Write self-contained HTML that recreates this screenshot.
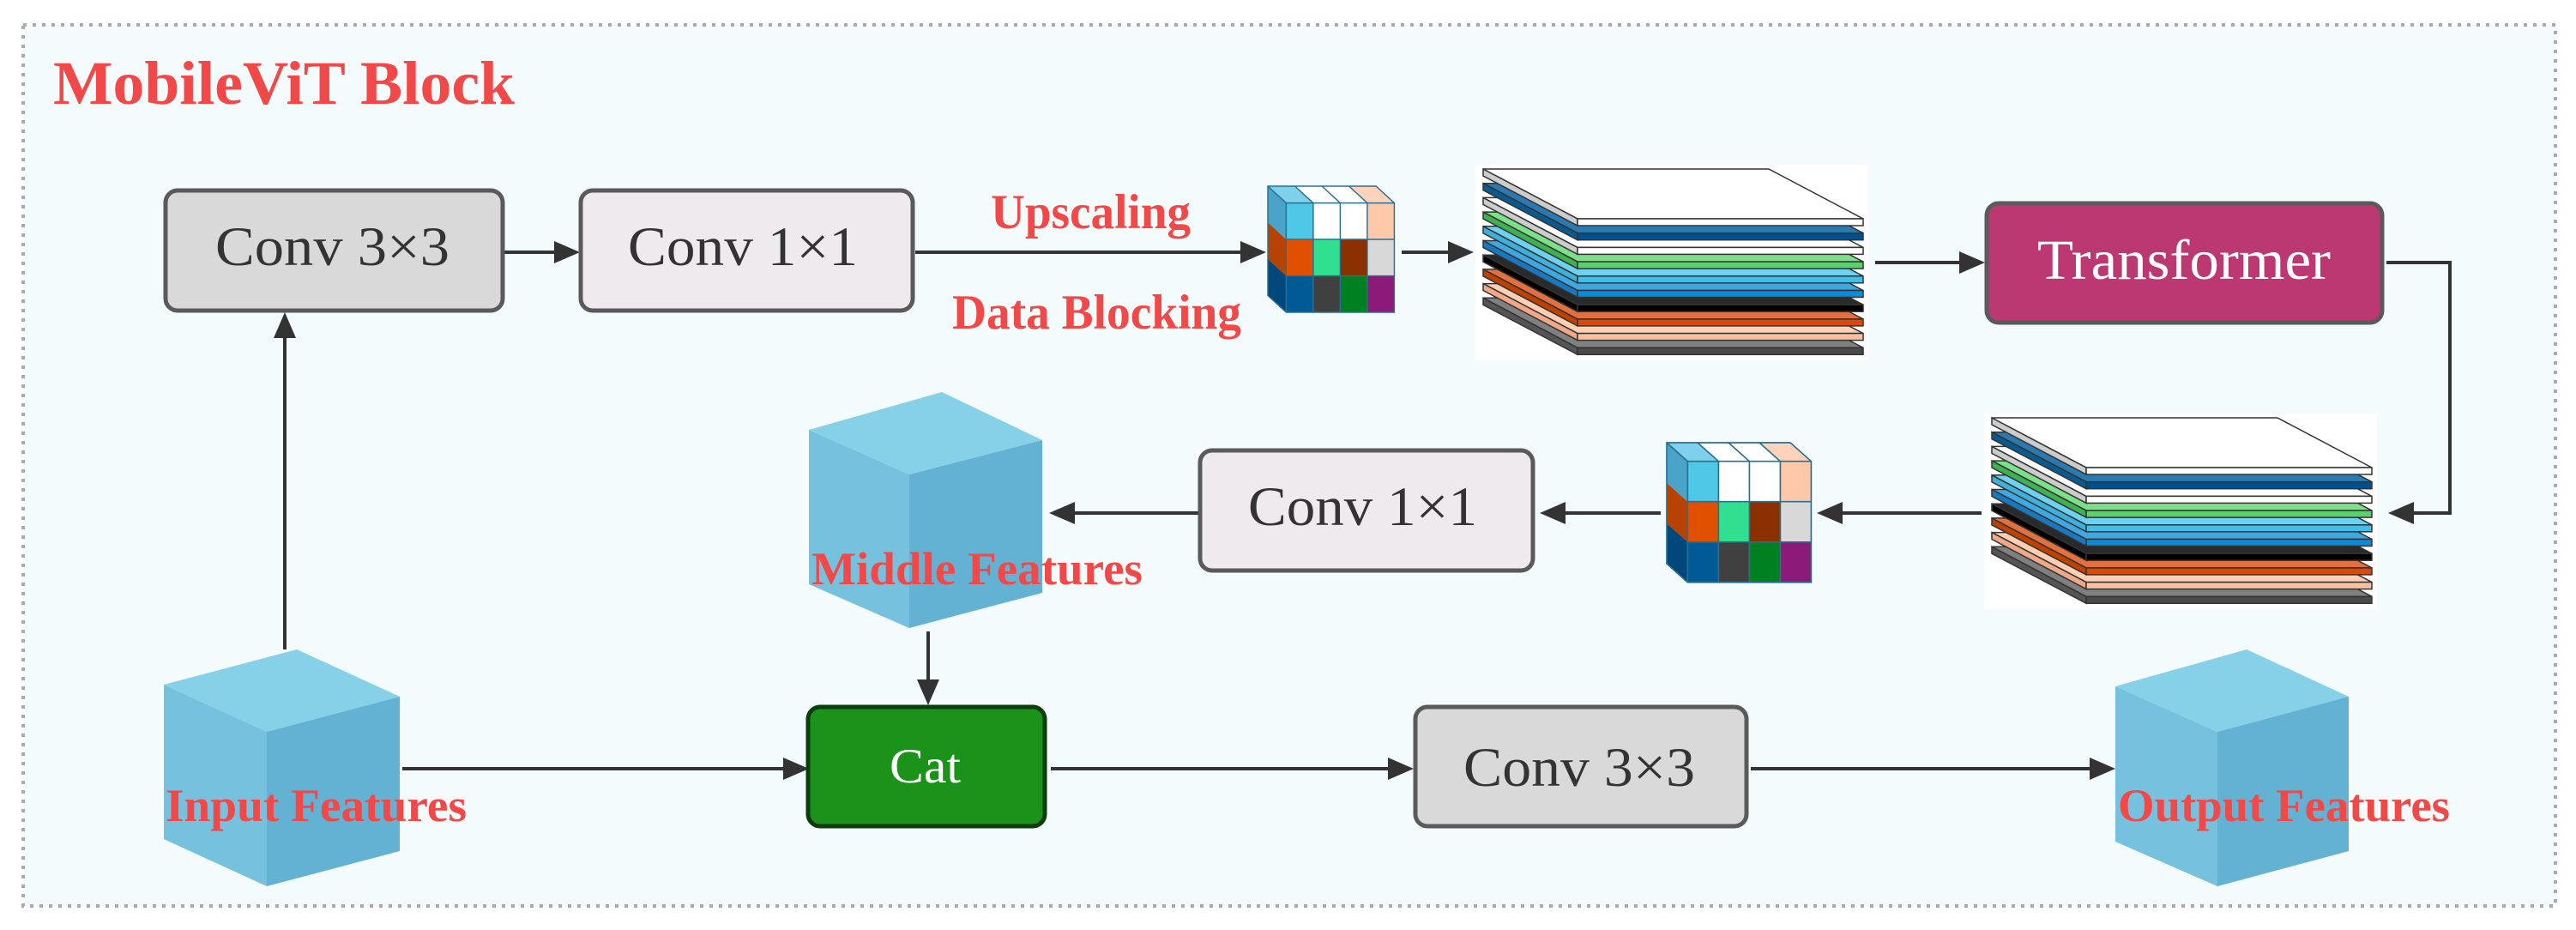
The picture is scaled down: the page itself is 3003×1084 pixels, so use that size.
<!DOCTYPE html>
<html><head><meta charset="utf-8"><style>
html,body{margin:0;padding:0;background:#fff;}
svg{display:block;}
text{font-family:"Liberation Serif",serif;}
</style></head><body>
<svg width="3003" height="1084" viewBox="0 0 3003 1084" xmlns="http://www.w3.org/2000/svg">
<defs>
<g id="cube">
  <polygon points="0,0 32.5,0 54.5,20 22,20" fill="#7fd0ea"/>
  <polygon points="32.5,0 65,0 87,20 54.5,20" fill="#fff"/>
  <polygon points="65,0 97.5,0 119.5,20 87,20" fill="#fff"/>
  <polygon points="97.5,0 130,0 152,20 119.5,20" fill="#ffd3bb"/>
  <polygon points="0,0 22,20 22,63.3 0,43.3" fill="#4aa3c8"/>
  <polygon points="0,43.3 22,63.3 22,106.7 0,86.7" fill="#b84200"/>
  <polygon points="0,86.7 22,106.7 22,150 0,130" fill="#00477c"/>
  <rect x="22" y="20" width="32.5" height="43.3" fill="#4fc8e8"/>
  <rect x="54.5" y="20" width="32.5" height="43.3" fill="#fff"/>
  <rect x="87" y="20" width="32.5" height="43.3" fill="#fff"/>
  <rect x="119.5" y="20" width="32.5" height="43.3" fill="#ffc8a8"/>
  <rect x="22" y="63.3" width="32.5" height="43.4" fill="#e05000"/>
  <rect x="54.5" y="63.3" width="32.5" height="43.4" fill="#30e090"/>
  <rect x="87" y="63.3" width="32.5" height="43.4" fill="#8b3000"/>
  <rect x="119.5" y="63.3" width="32.5" height="43.4" fill="#d8d8d8"/>
  <rect x="22" y="106.7" width="32.5" height="43.3" fill="#005a96"/>
  <rect x="54.5" y="106.7" width="32.5" height="43.3" fill="#404040"/>
  <rect x="87" y="106.7" width="32.5" height="43.3" fill="#008020"/>
  <rect x="119.5" y="106.7" width="32.5" height="43.3" fill="#8b1a78"/>
  <g fill="none" stroke="#2a6f8f" stroke-width="1.5">
    <polygon points="0,0 130,0 152,20 152,150 22,150 0,130"/>
    <line x1="22" y1="20" x2="152" y2="20"/><line x1="22" y1="20" x2="22" y2="150"/><line x1="0" y1="0" x2="22" y2="20"/>
    <line x1="22" y1="63.3" x2="152" y2="63.3"/><line x1="22" y1="106.7" x2="152" y2="106.7"/>
    <line x1="54.5" y1="20" x2="54.5" y2="150"/><line x1="87" y1="20" x2="87" y2="150"/><line x1="119.5" y1="20" x2="119.5" y2="150"/>
    <line x1="32.5" y1="0" x2="54.5" y2="20"/><line x1="65" y1="0" x2="87" y2="20"/><line x1="97.5" y1="0" x2="119.5" y2="20"/>
  </g>
</g>
<g id="stack">
  <rect x="1720" y="192" width="458" height="228" fill="#fff"/>
  <!-- layers bottom to top; k=9..0 -->
  <g stroke="#333" stroke-width="1.5">
    <g transform="translate(0,150.3)"><polygon points="1729,197 2062,197 2172,255 1839,255" fill="#808080"/><polygon points="1729,197 1839,255 1839,263 1729,205" fill="#555"/><rect x="1839" y="255" width="333" height="8" fill="#4a4a4a"/></g>
    <g transform="translate(0,133.6)"><polygon points="1729,197 2062,197 2172,255 1839,255" fill="#ffd0b4"/><polygon points="1729,197 1839,255 1839,263 1729,205" fill="#f0a888"/><rect x="1839" y="255" width="333" height="8" fill="#ffc0a0"/></g>
    <g transform="translate(0,116.9)"><polygon points="1729,197 2062,197 2172,255 1839,255" fill="#e37040"/><polygon points="1729,197 1839,255 1839,263 1729,205" fill="#c04000"/><rect x="1839" y="255" width="333" height="8" fill="#d84a08"/></g>
    <g transform="translate(0,100.2)"><polygon points="1729,197 2062,197 2172,255 1839,255" fill="#2a2a2a"/><polygon points="1729,197 1839,255 1839,263 1729,205" fill="#000"/><rect x="1839" y="255" width="333" height="8" fill="#000"/></g>
    <g transform="translate(0,83.5)"><polygon points="1729,197 2062,197 2172,255 1839,255" fill="#40a8e0"/><polygon points="1729,197 1839,255 1839,263 1729,205" fill="#1a78c0"/><rect x="1839" y="255" width="333" height="8" fill="#0a8ad8"/></g>
    <g transform="translate(0,66.8)"><polygon points="1729,197 2062,197 2172,255 1839,255" fill="#70d0f0"/><polygon points="1729,197 1839,255 1839,263 1729,205" fill="#40b0d8"/><rect x="1839" y="255" width="333" height="8" fill="#40c0e8"/></g>
    <g transform="translate(0,50.1)"><polygon points="1729,197 2062,197 2172,255 1839,255" fill="#7ce08a"/><polygon points="1729,197 1839,255 1839,263 1729,205" fill="#40b050"/><rect x="1839" y="255" width="333" height="8" fill="#5cd06c"/></g>
    <g transform="translate(0,33.4)"><polygon points="1729,197 2062,197 2172,255 1839,255" fill="#fff"/><polygon points="1729,197 1839,255 1839,263 1729,205" fill="#ccc"/><rect x="1839" y="255" width="333" height="8" fill="#fff"/></g>
    <g transform="translate(0,16.7)"><polygon points="1729,197 2062,197 2172,255 1839,255" fill="#2a7ab0"/><polygon points="1729,197 1839,255 1839,263 1729,205" fill="#0a5a90"/><rect x="1839" y="255" width="333" height="8" fill="#005090"/></g>
    <g><polygon points="1729,197 2062,197 2172,255 1839,255" fill="#fff"/><polygon points="1729,197 1839,255 1839,263 1729,205" fill="#ccc"/><rect x="1839" y="255" width="333" height="8" fill="#fff"/></g>
  </g>
</g>
</defs>

<rect x="27" y="29" width="2952" height="1027" fill="#f3fbfd" stroke="#aaaaaa" stroke-width="4" stroke-dasharray="4 7"/>
<text x="62" y="121" font-size="72" font-weight="bold" fill="#f24848" textLength="538" lengthAdjust="spacingAndGlyphs">MobileViT Block</text>

<!-- connectors -->
<g stroke="#333" stroke-width="4" fill="none">
  <line x1="588" y1="294" x2="648" y2="294"/>
  <line x1="1067" y1="294" x2="1448" y2="294"/>
  <line x1="1634" y1="294" x2="1690" y2="294"/>
  <line x1="2186" y1="306" x2="2286" y2="306"/>
  <polyline points="2782,306 2856,306 2856,598 2812,598"/>
  <line x1="2310" y1="598" x2="2146" y2="598"/>
  <line x1="1936" y1="598" x2="1823" y2="598"/>
  <line x1="1397" y1="598" x2="1251" y2="598"/>
  <line x1="332" y1="757" x2="332" y2="392"/>
  <line x1="1082" y1="736" x2="1082" y2="794"/>
  <line x1="469" y1="896" x2="915" y2="896"/>
  <line x1="1225" y1="896" x2="1620" y2="896"/>
  <line x1="2041" y1="896" x2="2438" y2="896"/>
</g>
<g fill="#333">
  <polygon points="676,294 646,281 646,307"/>
  <polygon points="1476,294 1446,281 1446,307"/>
  <polygon points="1718,294 1688,281 1688,307"/>
  <polygon points="2314,306 2284,293 2284,319"/>
  <polygon points="2784,598 2814,585 2814,611"/>
  <polygon points="2118,598 2148,585 2148,611"/>
  <polygon points="1795,598 1825,585 1825,611"/>
  <polygon points="1223,598 1253,585 1253,611"/>
  <polygon points="332,364 319,394 345,394"/>
  <polygon points="1082,822 1069,792 1095,792"/>
  <polygon points="943,896 913,883 913,909"/>
  <polygon points="1648,896 1618,883 1618,909"/>
  <polygon points="2466,896 2436,883 2436,909"/>
</g>

<!-- boxes -->
<rect x="193" y="222" width="393" height="140" rx="14" fill="#d9d9d9" stroke="#5a5a5a" stroke-width="5"/>
<text x="251" y="309" font-size="65" fill="#333" textLength="273" lengthAdjust="spacingAndGlyphs">Conv 3×3</text>
<rect x="677" y="222" width="387" height="140" rx="14" fill="#eeeaee" stroke="#5a5a5a" stroke-width="5"/>
<text x="732" y="309" font-size="65" fill="#333" textLength="268" lengthAdjust="spacingAndGlyphs">Conv 1×1</text>
<rect x="1399" y="525" width="388" height="140" rx="14" fill="#eeeaee" stroke="#5a5a5a" stroke-width="5"/>
<text x="1455" y="612" font-size="65" fill="#333" textLength="267" lengthAdjust="spacingAndGlyphs">Conv 1×1</text>
<rect x="1650" y="824" width="386" height="139" rx="14" fill="#d9d9d9" stroke="#5a5a5a" stroke-width="5"/>
<text x="1706" y="916" font-size="65" fill="#333" textLength="270" lengthAdjust="spacingAndGlyphs">Conv 3×3</text>
<rect x="2316" y="237" width="461" height="139" rx="14" fill="#bb3872" stroke="#5a5a5a" stroke-width="5"/>
<text x="2375" y="325" font-size="66" fill="#fff" textLength="342" lengthAdjust="spacingAndGlyphs">Transformer</text>
<rect x="942" y="824" width="276" height="139" rx="14" fill="#1b931b" stroke="#0d3d0d" stroke-width="5"/>
<text x="1037" y="912" font-size="57" fill="#fff" textLength="83" lengthAdjust="spacingAndGlyphs">Cat</text>

<!-- small cubes -->
<use href="#cube" transform="translate(1478,217) scale(0.97,0.98)"/>
<use href="#cube" transform="translate(1943,516) scale(1.108,1.085)"/>
<!-- stacks -->
<use href="#stack"/>
<use href="#stack" transform="translate(593,290)"/>

<!-- big cubes -->
<g>
  <polygon points="346,757 466,812 311,853 191,798" fill="#86d1e8"/>
  <polygon points="191,798 311,853 311,1033 191,978" fill="#76c2de"/>
  <polygon points="311,853 466,812 466,992 311,1033" fill="#63b1d3"/>
</g>
<g>
  <polygon points="1098,457 1215,513 1060,553 943,501" fill="#86d1e8"/>
  <polygon points="943,501 1060,553 1060,732 943,681" fill="#76c2de"/>
  <polygon points="1060,553 1215,513 1215,691 1060,732" fill="#63b1d3"/>
</g>
<g>
  <polygon points="2619,757 2738,812 2585,853 2466,800" fill="#86d1e8"/>
  <polygon points="2466,800 2585,853 2585,1033 2466,981" fill="#76c2de"/>
  <polygon points="2585,853 2738,812 2738,992 2585,1033" fill="#63b1d3"/>
</g>

<!-- labels -->
<g font-weight="bold" fill="#f24848">
  <text x="1155" y="266" font-size="57" textLength="233" lengthAdjust="spacingAndGlyphs">Upscaling</text>
  <text x="1110" y="383" font-size="57" textLength="337" lengthAdjust="spacingAndGlyphs">Data Blocking</text>
  <text x="193" y="957" font-size="54" textLength="351" lengthAdjust="spacingAndGlyphs">Input Features</text>
  <text x="946" y="681" font-size="54" textLength="386" lengthAdjust="spacingAndGlyphs">Middle Features</text>
  <text x="2469" y="957" font-size="54" textLength="387" lengthAdjust="spacingAndGlyphs">Output Features</text>
</g>
</svg>
</body></html>
